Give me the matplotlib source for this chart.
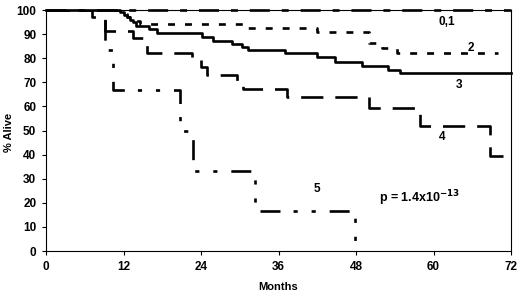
import numpy as np
import matplotlib
matplotlib.use("Agg")
import matplotlib.pyplot as plt

# Kaplan-Meier step data (months, % alive), value holds after each time
t01 = [0, 72]
s01 = [100, 100]

t2 = [0, 12, 12.5, 13.3, 14.5, 30.5, 42, 50, 52, 54.3, 70]
s2 = [100, 98.5, 97, 95.5, 94, 92.5, 90.7, 86.2, 84.1, 82.3, 82.3]

t3 = [0, 11.5, 12, 12.5, 13, 13.5, 14, 16, 17.2, 24.1, 25.9, 28.8, 30.3,
      31.3, 37, 42, 44.7, 49, 53, 54.8, 72]
s3 = [100, 99, 98, 97, 96, 95, 93.3, 92.3, 90.5, 88.7, 87.1, 85.8, 84.8,
      83.4, 82.2, 80.5, 78.4, 76.8, 75, 73.9, 73.9]

t4 = [0, 7.1, 9.2, 13.5, 15, 15.7, 22.6, 24, 24.9, 29.5, 30.5, 37.3, 50,
      57.9, 68.7, 70.7]
s4 = [100, 97.3, 91.3, 88.4, 86.3, 82.2, 79.5, 76.3, 73, 70, 67.2, 64, 59.3,
      51.9, 39.4, 39.4]

t5 = [0, 9.2, 10.3, 20.7, 22.7, 32.4, 47.8]
s5 = [100, 83.3, 66.7, 50, 33.3, 16.7, 0]

curve_labels = ["0,1", "2", "3", "4", "5"]
label_pos = [(62.1, 95), (65.8, 84.2), (63.9, 68.9), (61.3, 47.3), (42, 25.7)]

plt.rcParams['font.family'] = ['Liberation Sans', 'DejaVu Sans']
plt.rcParams['lines.scale_dashes'] = False

fig = plt.figure(figsize=(5.2, 2.96), dpi=100)
ax = fig.add_axes([46 / 520, 1 - 251 / 296, 465 / 520, 241 / 296])

lw = 1.9
ax.step(t01, s01, where='post', color='black', lw=lw, clip_on=False, zorder=5,
        linestyle=(0, (14.4, 8.6, 5, 8.6)))
ax.step(t2, s2, where='post', color='black', lw=lw,
        linestyle=(0, (5, 7.2)))
ax.step(t3, s3, where='post', color='black', lw=lw, linestyle='-', clip_on=False)
ax.step(t4, s4, where='post', color='black', lw=lw,
        linestyle=(0, (16, 8.6)))
ax.step(t5, s5, where='post', color='black', lw=lw,
        linestyle=(0, (14.4, 9.4, 3, 10, 3, 10)))

for lab, (x, y) in zip(curve_labels, label_pos):
    ax.text(x, y, lab, fontsize=8.5, fontweight='bold', ha='center', va='center')

ax.text(51.5, 22, r'p = 1.4x10$^{\mathbf{-13}}$', fontsize=9,
        fontweight='bold', ha='left', va='center')

ax.set_xlim(0, 72)
ax.set_ylim(0, 100)
ax.set_xticks(np.arange(0, 73, 12))
ax.set_yticks(np.arange(0, 101, 10))
ax.tick_params(direction='out', length=3, width=0.8, labelsize=8.5, pad=4)
for lab in ax.get_xticklabels() + ax.get_yticklabels():
    lab.set_fontweight('bold')
for sp in ax.spines.values():
    sp.set_linewidth(0.8)

ax.set_xlabel('Months', fontsize=8, fontweight='bold', labelpad=7)
# y label sits very close to the left edge in the original
fig.text(9 / 520, 1 - 132 / 296, '% Alive', fontsize=8, fontweight='bold',
         rotation=90, ha='center', va='center')

fig.savefig('out.png', dpi=100)
